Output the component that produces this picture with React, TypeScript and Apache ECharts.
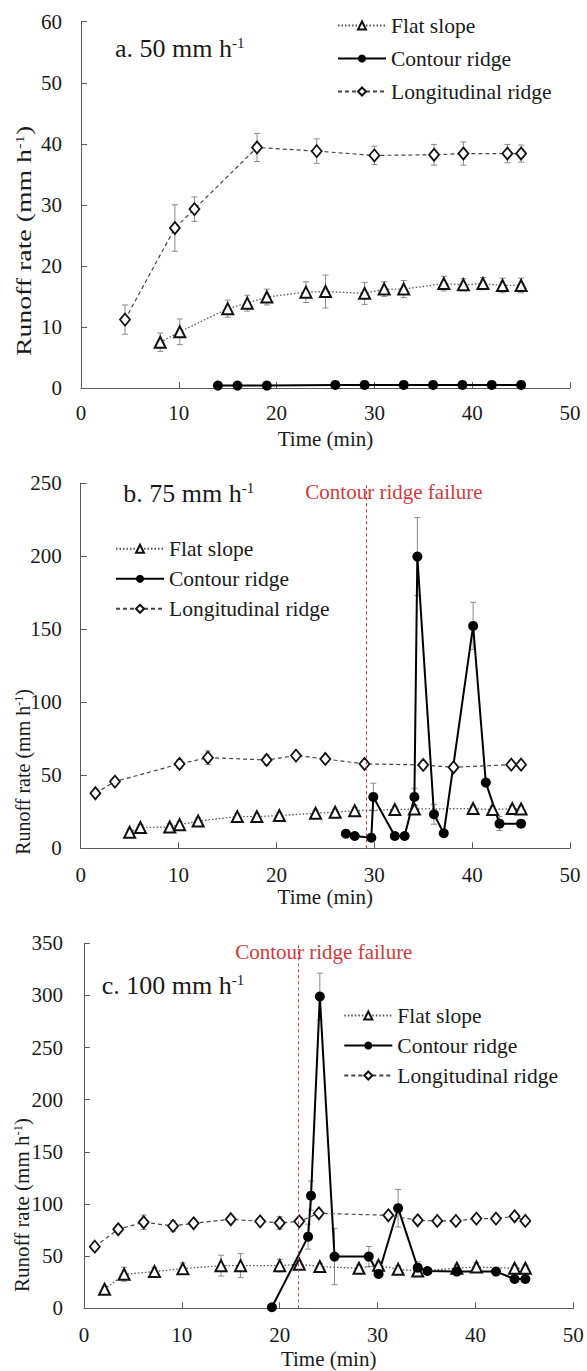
import React, { useEffect, useRef } from 'react';
import * as echarts from 'echarts';

// ---------- Panel a: 50 mm h-1 ----------
const aFlatX = [8.1, 10.1, 15, 17, 19, 23, 25, 29, 31, 33, 37.1, 39.1, 41.1, 43.1, 45];
const aFlatY = [7.5, 9.2, 13.0, 13.9, 14.9, 15.7, 15.8, 15.5, 16.2, 16.2, 17.1, 16.9, 17.1, 16.8, 16.8];
const aFlatErr = [1.5, 2.1, 1.4, 1.3, 1.3, 1.7, 2.7, 1.8, 1.2, 1.4, 1.2, 1.0, 1.0, 1.2, 1.2];
const aContX = [14, 16, 19, 26, 29, 33, 36, 39, 42, 45];
const aContY = [0.4, 0.4, 0.4, 0.5, 0.5, 0.5, 0.5, 0.5, 0.5, 0.5];
const aContErr = [0.2, 0.2, 0.2, 0.2, 0.2, 0.2, 0.2, 0.2, 0.2, 0.2];
const aLongX = [4.5, 9.6, 11.6, 18, 24.1, 30, 36.1, 39.1, 43.6, 45];
const aLongY = [11.2, 26.2, 29.3, 39.4, 38.8, 38.1, 38.2, 38.4, 38.4, 38.4];
const aLongErr = [2.4, 3.8, 2.0, 2.3, 2.0, 1.5, 1.7, 1.9, 1.5, 1.4];

// ---------- Panel b: 75 mm h-1 ----------
const bFlatX = [5, 6.1, 9.1, 10.1, 12, 16, 18, 20.3, 24, 26, 28, 32.1, 34.1, 40.1, 42.1, 44.1, 45];
const bFlatY = [11, 14.2, 14.6, 16.2, 18.7, 21.7, 21.7, 22.4, 24, 24.7, 25.8, 26.5, 26.9, 27.2, 26.5, 27.2, 26.9];
const bFlatErr = [2, 2, 2, 2, 2, 2, 2, 2, 2, 2, 2, 2, 3, 2, 2, 2, 2];
const bContX = [27.1, 28, 29.7, 29.9, 32.1, 33.1, 34.1, 34.4, 36.1, 37.1, 40.1, 41.4, 42.8, 45];
const bContY = [10, 8.4, 7.3, 35.2, 8.4, 8.4, 35.2, 199.8, 23.3, 10.3, 152.3, 45, 16.9, 16.9];
const bContErr = [1, 1, 1, 9.4, 1, 1, 5.9, 26.7, 6.8, 1, 16.2, 2, 4.8, 1];
const bLongX = [1.5, 3.5, 10.1, 13, 19, 22, 25, 29, 35, 38.1, 44, 45];
const bLongY = [37.7, 45.7, 57.8, 62.1, 60.5, 63.5, 61.2, 57.8, 57.1, 55.5, 57.3, 57.3];
const bLongErr = [1.5, 2, 3, 4.6, 3.5, 2, 2, 2, 2, 2, 2, 2];
const bFailure = 29.2;

// ---------- Panel c: 100 mm h-1 ----------
const cFlatX = [2.1, 4.1, 7.2, 10.1, 14, 16, 20, 22, 24.1, 28.1, 30.1, 32.1, 34.1, 38.1, 40.1, 44, 45.1];
const cFlatY = [18.2, 32.6, 35.2, 38, 40.9, 40.9, 40.9, 42.2, 40, 38.4, 41.2, 37.4, 35.8, 38.4, 39.6, 38.4, 38.4];
const cFlatErr = [3, 6.7, 4, 5.5, 10, 11.5, 6, 3, 3, 3, 4, 3, 3, 3, 4, 3, 3];
const cContX = [19.2, 22.9, 23.2, 24.1, 25.6, 29.1, 30.1, 32.1, 34.1, 35.1, 38.1, 42.1, 44, 45.1];
const cContY = [1, 68.7, 108, 299, 49.6, 49.6, 33, 96, 39, 35.8, 35.2, 35.2, 28.1, 28.1];
const cContErr = [0.5, 12, 14, 22.4, 27, 9.6, 3, 18, 5.6, 2, 2, 2, 2, 2];
const cLongX = [1.1, 3.5, 6.1, 9.1, 11.2, 15, 18, 20, 22, 24, 31.1, 34.1, 36.1, 38, 40.1, 42.1, 44, 45.1];
const cLongY = [59.1, 75.8, 82.5, 79, 81.5, 85.4, 83.4, 81.8, 83.4, 91.1, 89.2, 84.4, 83.8, 83.8, 86, 86, 88.2, 83.8];
const cLongErr = [2, 3, 7, 5, 3, 3, 3, 6, 3, 3, 3, 3, 3, 3, 3, 3, 3, 3];
const cFailure = 21.9;

const seriesNames = ['Flat slope', 'Contour ridge', 'Longitudinal ridge'];
const panelTitles = ['a. 50 mm h', 'b. 75 mm h', 'c. 100 mm h'];
const yMax = [60, 250, 350];
const yInterval = [10, 50, 50];
const xMax = 50;
const xInterval = 10;

const FONT = 'Liberation Serif';
const AXIS = '#5a5a5a';
const TXT = '#1a1a1a';
const RED = '#d23a3a';

const zip = (xs: number[], ys: number[]) => xs.map((x, i) => [x, ys[i]]);
const errs = (xs: number[], ys: number[], es: number[]) =>
  xs.map((x, i) => [x, ys[i] - es[i], ys[i] + es[i]]);

const errorRender = (params: any, api: any) => {
  const x = api.value(0);
  const p1 = api.coord([x, api.value(2)]);
  const p2 = api.coord([x, api.value(1)]);
  const w = 3;
  const st = { stroke: '#8a8a8a', lineWidth: 1 };
  return {
    type: 'group',
    children: [
      { type: 'line', shape: { x1: p1[0], y1: p1[1], x2: p2[0], y2: p2[1] }, style: st },
      { type: 'line', shape: { x1: p1[0] - w, y1: p1[1], x2: p1[0] + w, y2: p1[1] }, style: st },
      { type: 'line', shape: { x1: p2[0] - w, y1: p2[1], x2: p2[0] + w, y2: p2[1] }, style: st },
    ],
  };
};

function panel(
  i: number,
  fx: number[], fy: number[], fe: number[],
  cx: number[], cy: number[], ce: number[],
  lx: number[], ly: number[], le: number[],
  failure?: number
) {
  const common = { xAxisIndex: i, yAxisIndex: i, type: 'line' as const, z: 2 };
  const flat: any = {
    ...common,
    name: seriesNames[0],
    data: zip(fx, fy),
    symbol: 'triangle',
    symbolSize: 11,
    itemStyle: { color: '#ffffff', borderColor: '#111', borderWidth: 2 },
    lineStyle: { color: '#555', width: 1.3, type: [1.5, 2] },
  };
  const cont: any = {
    ...common,
    name: seriesNames[1],
    data: zip(cx, cy),
    symbol: 'circle',
    symbolSize: 10,
    itemStyle: { color: '#000', borderColor: '#000', borderWidth: 0 },
    lineStyle: { color: '#000', width: 2, type: 'solid' },
  };
  if (failure !== undefined) {
    cont.markLine = {
      silent: true,
      symbol: 'none',
      label: { show: false },
      lineStyle: { color: RED, type: [3, 3], width: 1 },
      data: [{ xAxis: failure }],
    };
  }
  const lon: any = {
    ...common,
    name: seriesNames[2],
    data: zip(lx, ly),
    symbol: 'diamond',
    symbolSize: [10, 12],
    itemStyle: { color: '#ffffff', borderColor: '#111', borderWidth: 1.8 },
    lineStyle: { color: '#444', width: 1.2, type: [4, 3] },
  };
  const eb = (d: number[][]) => ({
    type: 'custom' as const,
    xAxisIndex: i,
    yAxisIndex: i,
    renderItem: errorRender,
    encode: { x: 0, y: [1, 2] },
    data: d,
    z: 1,
    silent: true,
  });
  return [eb(errs(fx, fy, fe)), eb(errs(cx, cy, ce)), eb(errs(lx, ly, le)), flat, cont, lon];
}

const grids = [
  { left: 81, top: 21.7, width: 489, height: 366.3 },
  { left: 80.7, top: 483.3, width: 489.3, height: 365 },
  { left: 84, top: 943.3, width: 489.3, height: 365 },
];
const xLabelMargin = [14, 16.5, 16.5];
const xNameGap = [40, 38.5, 40];
const yLabelMargin = [19, 19, 21];

const legendPos = [
  { left: 337, top: 14.5, itemGap: 11 },
  { left: 115, top: 537.8, itemGap: 8 },
  { left: 343.3, top: 1004.5, itemGap: 8 },
];
const titlePos = [
  { x: 115, y: 48 },
  { x: 123.3, y: 493 },
  { x: 101.7, y: 985 },
];
const yNamePos = [
  { x: 24, y: 241, s: 1.39 },
  { x: 23, y: 772, s: 1.0 },
  { x: 22, y: 1205, s: 1.05 },
];
const failLabelPos = [
  { x: 394, y: 491.7 },
  { x: 323.8, y: 951.7 },
];

function buildOption() {
  const xAxis = grids.map((_, i) => ({
    type: 'value',
    gridIndex: i,
    min: 0,
    max: xMax,
    interval: xInterval,
    name: 'Time (min)',
    nameLocation: 'middle',
    nameGap: xNameGap[i],
    nameTextStyle: { fontFamily: FONT, fontSize: 21, color: TXT },
    axisLine: { show: true, lineStyle: { color: AXIS, width: 1 } },
    axisTick: { show: true, inside: true, length: 6, lineStyle: { color: AXIS } },
    axisLabel: { fontFamily: FONT, fontSize: 21, color: TXT, margin: xLabelMargin[i] },
    splitLine: { show: false },
  }));
  const yAxis = grids.map((_, i) => ({
    type: 'value',
    gridIndex: i,
    min: 0,
    max: yMax[i],
    interval: yInterval[i],
    axisLine: { show: true, lineStyle: { color: AXIS, width: 1 } },
    axisTick: { show: true, inside: true, length: 6, lineStyle: { color: AXIS } },
    axisLabel: { fontFamily: FONT, fontSize: 21, color: TXT, margin: yLabelMargin[i] },
    splitLine: { show: false },
  }));
  const legend = legendPos.map((p) => ({
    data: seriesNames,
    orient: 'vertical',
    left: p.left,
    top: p.top,
    itemGap: p.itemGap,
    itemWidth: 48,
    itemHeight: 10,
    padding: 0,
    selectedMode: false,
    textStyle: { fontFamily: FONT, fontSize: 21.5, color: TXT },
  }));
  const series = [
    ...panel(0, aFlatX, aFlatY, aFlatErr, aContX, aContY, aContErr, aLongX, aLongY, aLongErr),
    ...panel(1, bFlatX, bFlatY, bFlatErr, bContX, bContY, bContErr, bLongX, bLongY, bLongErr, bFailure),
    ...panel(2, cFlatX, cFlatY, cFlatErr, cContX, cContY, cContErr, cLongX, cLongY, cLongErr, cFailure),
  ];
  const graphic: any[] = [];
  titlePos.forEach((p, i) => {
    graphic.push({
      type: 'text',
      x: p.x,
      y: p.y,
      silent: true,
      style: {
        text: `{m|${panelTitles[i]}}{s|-1}`,
        align: 'left',
        verticalAlign: 'middle',
        fill: TXT,
        rich: {
          m: { fontFamily: FONT, fontSize: 26, lineHeight: 26, fill: TXT },
          s: { fontFamily: FONT, fontSize: 15, lineHeight: 15, verticalAlign: 'top', fill: TXT },
        },
      },
    });
  });
  yNamePos.forEach((p) => {
    graphic.push({
      type: 'text',
      x: p.x,
      y: p.y,
      rotation: Math.PI / 2,
      scaleX: p.s,
      silent: true,
      style: {
        text: '{m|Runoff rate (mm h}{s|-1}{m|)}',
        align: 'center',
        verticalAlign: 'middle',
        fill: TXT,
        rich: {
          m: { fontFamily: FONT, fontSize: 20, lineHeight: 20, fill: TXT },
          s: { fontFamily: FONT, fontSize: 12, lineHeight: 12, verticalAlign: 'top', fill: TXT },
        },
      },
    });
  });
  failLabelPos.forEach((p) => {
    graphic.push({
      type: 'text',
      x: p.x,
      y: p.y,
      silent: true,
      style: {
        text: '{r|Contour ridge failure}',
        align: 'center',
        verticalAlign: 'middle',
        rich: {
          r: { fontFamily: FONT, fontSize: 21, lineHeight: 21, fill: RED },
        },
      },
    });
  });
  return {
    animation: false,
    backgroundColor: '#ffffff',
    textStyle: { fontFamily: FONT },
    grid: grids,
    xAxis,
    yAxis,
    legend,
    series,
    graphic,
  };
}

export default function App() {
  const ref = useRef<HTMLDivElement>(null);
  useEffect(() => {
    document.body.style.margin = '0';
    const chart = echarts.init(ref.current as HTMLDivElement, null, { renderer: 'svg' });
    chart.setOption(buildOption() as any);
    return () => chart.dispose();
  }, []);
  return <div ref={ref} style={{ width: 587, height: 1371 }} />;
}
